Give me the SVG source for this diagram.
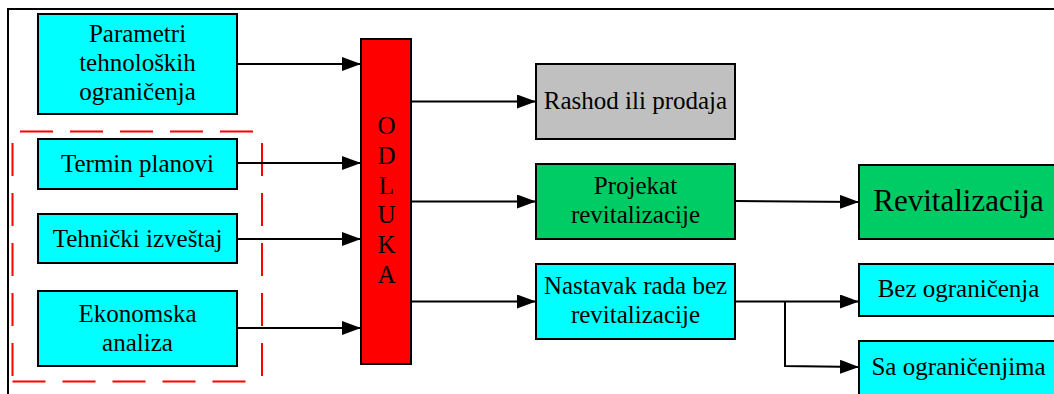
<svg xmlns="http://www.w3.org/2000/svg" width="1054" height="394" viewBox="0 0 1054 394">
<style>
.box{stroke:#000;stroke-width:2}
.cyan{fill:#00ffff}
.red{fill:#ff0000}
.grey{fill:#c0c0c0}
.green{fill:#00cc66}
text{font-family:'Liberation Serif','Times New Roman',Times,serif;font-size:25px;fill:#000;text-anchor:middle}
.big{font-size:31px}
.conn{fill:none;stroke:#000;stroke-width:2}
.dash{fill:none;stroke:#ff0000;stroke-width:2;stroke-dasharray:33 17}
</style>
<defs>
<marker id="arr" markerWidth="20" markerHeight="14" refX="19" refY="7" orient="auto" markerUnits="userSpaceOnUse">
<path d="M0,0 L19,7 L0,14 Z" fill="#000"/>
</marker>
</defs>
<rect width="1054" height="394" fill="#fff"/>
<rect x="8" y="9" width="1100" height="420" fill="none" stroke="#000" stroke-width="2"/>
<g id="group-box">
<path class="dash" d="M12,131.5 H262" stroke-dashoffset="42"/>
<path class="dash" d="M12.5,131.5 V381.5" stroke-dashoffset="38.5"/>
<path class="dash" d="M262,131.5 V381.5" stroke-dashoffset="38.5"/>
<path class="dash" d="M12.5,381.5 H262"/>
</g>

<g id="connectors">
<path class="conn" d="M237,64 H361" marker-end="url(#arr)"/>
<path class="conn" d="M237,163 H361" marker-end="url(#arr)"/>
<path class="conn" d="M237,239 H361" marker-end="url(#arr)"/>
<path class="conn" d="M237,328 H361" marker-end="url(#arr)"/>
<path class="conn" d="M411,101.5 H536" marker-end="url(#arr)"/>
<path class="conn" d="M411,201.5 H536" marker-end="url(#arr)"/>
<path class="conn" d="M411,301.5 H536" marker-end="url(#arr)"/>
<path class="conn" d="M735,201 L859,202" marker-end="url(#arr)"/>
<path class="conn" d="M735,301.5 H859" marker-end="url(#arr)"/>
<path class="conn" d="M785,301.5 V366 L859,367" marker-end="url(#arr)"/>
</g>

<g id="parametri">
<rect class="box cyan" x="38" y="14" width="199" height="100"/>
<text x="137.5" y="42">Parametri</text>
<text x="137.5" y="71">tehnoloških</text>
<text x="137.5" y="100">ograničenja</text>
</g>
<g id="termin">
<rect class="box cyan" x="38" y="139" width="199" height="50"/>
<text x="137.5" y="172">Termin planovi</text>
</g>
<g id="tehnicki">
<rect class="box cyan" x="38" y="214" width="199" height="49"/>
<text x="137.5" y="247">Tehnički izveštaj</text>
</g>
<g id="ekonomska">
<rect class="box cyan" x="38" y="291" width="199" height="75"/>
<text x="137.5" y="322">Ekonomska</text>
<text x="137.5" y="351">analiza</text>
</g>
<g id="odluka">
<rect class="box red" x="361" y="39" width="50" height="325"/>
<text x="386.5" y="134">O</text>
<text x="386.5" y="164">D</text>
<text x="386.5" y="194">L</text>
<text x="386.5" y="223">U</text>
<text x="386.5" y="253">K</text>
<text x="386.5" y="283">A</text>
</g>
<g id="rashod">
<rect class="box grey" x="536" y="64" width="199" height="75"/>
<text x="635.5" y="109">Rashod ili prodaja</text>
</g>
<g id="projekat">
<rect class="box green" x="536" y="164" width="199" height="75"/>
<text x="635.5" y="194">Projekat</text>
<text x="635.5" y="223">revitalizacije</text>
</g>
<g id="nastavak">
<rect class="box cyan" x="536" y="264" width="199" height="75"/>
<text x="635.5" y="294">Nastavak rada bez</text>
<text x="635.5" y="323">revitalizacije</text>
</g>
<g id="revitalizacija">
<rect class="box green" x="859" y="165" width="199" height="74"/>
<text class="big" x="958.5" y="211">Revitalizacija</text>
</g>
<g id="bez">
<rect class="box cyan" x="859" y="264" width="199" height="52"/>
<text x="958.5" y="297">Bez ograničenja</text>
</g>
<g id="sa">
<rect class="box cyan" x="859" y="341" width="199" height="60"/>
<text x="958.5" y="375">Sa ograničenjima</text>
</g>
</svg>
